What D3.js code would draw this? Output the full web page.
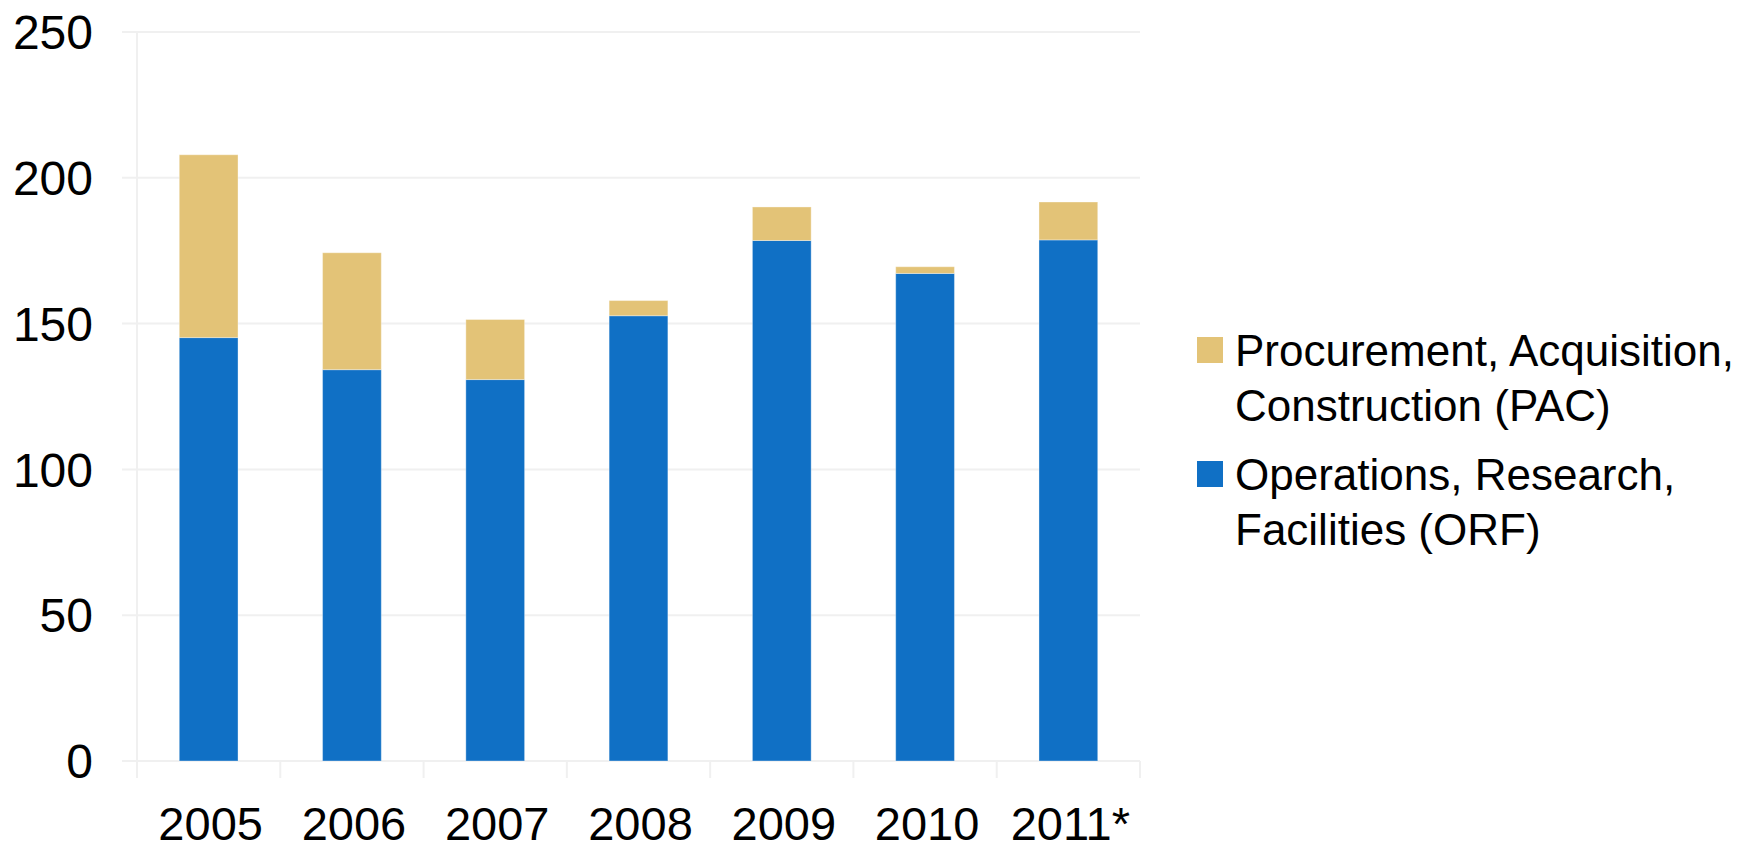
<!DOCTYPE html>
<html>
<head>
<meta charset="utf-8">
<script src="https://cdn.jsdelivr.net/npm/d3@7"></script>
<style>
  body { margin: 0; background: #fff; }
  text { font-family: "Liberation Sans", Arial, sans-serif; fill: #000; }
</style>
</head>
<body>
<div id="chart"></div>
<script>
"use strict";

const years = ['2005', '2006', '2007', '2008', '2009', '2010', '2011*']
const orf = [145.2, 134.2, 130.8, 152.7, 178.5, 167.2, 178.7]
const pac = [62.7, 40.1, 20.6, 5.2, 11.5, 2.3, 13.0]
const yTicks = [0, 50, 100, 150, 200, 250]
const legendItems = [
  { lines: ['Procurement, Acquisition,', 'Construction (PAC)'], color: '#e3c377' },
  { lines: ['Operations, Research,', 'Facilities (ORF)'], color: '#1070c5' },
]

const W = 1760, H = 851
const GRID = '#f0f0f0'

const svg = d3.select('#chart')
  .append('svg')
  .attr('width', W)
  .attr('height', H)

const x = d3.scaleBand().domain(years).range([137, 1140])
const y = d3.scaleLinear().domain([0, 250]).range([761, 32])

// gridlines
svg.append('g')
  .selectAll('line')
  .data(yTicks)
  .join('line')
    .attr('x1', 122)
    .attr('x2', 1140)
    .attr('y1', d => y(d))
    .attr('y2', d => y(d))
    .attr('stroke', GRID)
    .attr('stroke-width', 2)

// y axis line
svg.append('line')
  .attr('x1', 137).attr('x2', 137)
  .attr('y1', y(250)).attr('y2', 778)
  .attr('stroke', GRID)
  .attr('stroke-width', 2)

// x ticks at band boundaries
const bounds = years.map(yr => x(yr)).concat([x.range()[1]])
svg.append('g')
  .selectAll('line')
  .data(bounds.slice(1))
  .join('line')
    .attr('x1', d => d).attr('x2', d => d)
    .attr('y1', y(0)).attr('y2', 778)
    .attr('stroke', GRID)
    .attr('stroke-width', 2)

// y labels
svg.append('g')
  .selectAll('text')
  .data(yTicks)
  .join('text')
    .attr('x', 93)
    .attr('y', d => y(d))
    .attr('dy', '0.36em')
    .attr('text-anchor', 'end')
    .attr('font-size', 48)
    .text(d => d)

// x labels
svg.append('g')
  .selectAll('text')
  .data(years)
  .join('text')
    .attr('x', d => x(d) + x.bandwidth() / 2 + 2)
    .attr('y', 840)
    .attr('text-anchor', 'middle')
    .attr('font-size', 47)
    .text(d => d)

// bars
const barW = x.bandwidth() * 0.41
const bx = d => x(d) + (x.bandwidth() - barW) / 2

const rows = years.map((yr, i) => ({ yr, orf: orf[i], pac: pac[i] }))

svg.append('g')
  .selectAll('rect')
  .data(rows)
  .join('rect')
    .attr('x', d => bx(d.yr))
    .attr('y', d => y(d.orf))
    .attr('width', barW)
    .attr('height', d => y(0) - y(d.orf))
    .attr('fill', legendItems[1].color)
    .attr('stroke', 'rgba(255,255,255,0.35)')
    .attr('stroke-width', 1)

svg.append('g')
  .selectAll('rect')
  .data(rows)
  .join('rect')
    .attr('x', d => bx(d.yr))
    .attr('y', d => y(d.orf + d.pac))
    .attr('width', barW)
    .attr('height', d => y(d.orf) - y(d.orf + d.pac))
    .attr('fill', legendItems[0].color)
    .attr('stroke', 'rgba(255,255,255,0.35)')
    .attr('stroke-width', 1)

// legend
const lg = svg.append('g')
  .selectAll('g')
  .data(legendItems)
  .join('g')
    .attr('transform', (d, i) => `translate(1197,${337 + i * 124})`)

lg.append('rect')
  .attr('width', 26)
  .attr('height', 26)
  .attr('fill', d => d.color)

lg.append('text')
  .attr('x', 38)
  .attr('font-size', 44)
  .selectAll('tspan')
  .data(d => d.lines)
  .join('tspan')
    .attr('x', 38)
    .attr('y', (d, i) => 29 + i * 55)
    .text(d => d)
</script>
</body>
</html>
